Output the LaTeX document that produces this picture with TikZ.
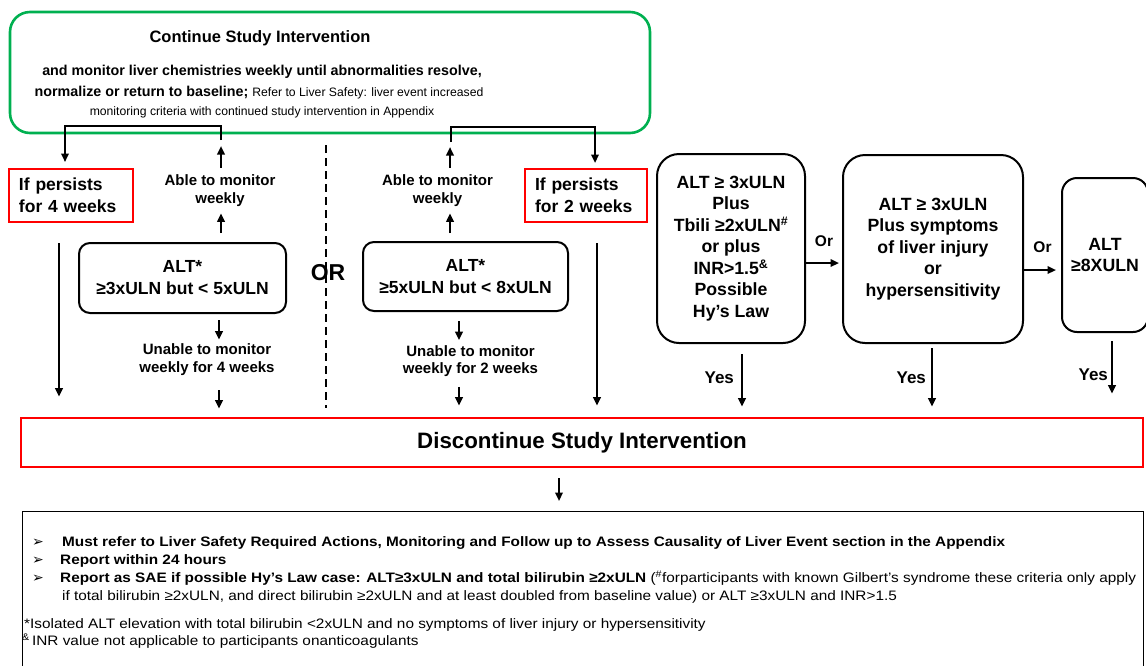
\documentclass[tikz,border=0pt]{standalone}
\usepackage{fontspec}
\setmainfont{Liberation Sans}
\newfontfamily\symfont{DejaVu Sans}
\newfontfamily\notefont[FakeStretch=1.12]{Liberation Sans}
\usetikzlibrary{arrows.meta,positioning}
\definecolor{contgreen}{RGB}{0,176,80}
\definecolor{stopred}{RGB}{255,0,0}
\newcommand{\fs}[2]{\fontsize{#1}{#2}\selectfont}
\tikzset{
  >={Triangle[length=8.5pt,width=7.5pt]},
  greenbox/.style={draw=contgreen, line width=2.6pt, rounded corners=20pt},
  redbox/.style={draw=stopred, line width=2.6pt, align=left, inner xsep=10pt,
                 font=\fs{17.5}{22}\bfseries},
  altbox/.style={draw, line width=2pt, rounded corners=11pt, align=center,
                 font=\fs{17.5}{22}\bfseries},
  critbox/.style={draw, line width=2pt, rounded corners=22pt, align=center,
                  font=\fs{17.7}{21.5}\bfseries},
  lbl/.style={align=center, inner sep=0pt, font=\fs{15}{17.5}\bfseries},
  line/.style={draw, line width=2.2pt, ->},
  bracket/.style={draw, line width=2.2pt},
  note/.style={anchor=base west, inner sep=0pt, font=\notefont\fs{13.7}{16}},
  notebold/.style={note, font=\notefont\fs{13.7}{16}\bfseries},
  bullet/.style={anchor=base west, inner sep=0pt, font=\symfont\fs{14}{16}}
}

\begin{document}
\begin{tikzpicture}[x=1pt,y=-1pt]
    \useasboundingbox (0,0) rectangle (1146,665);
    \clip (0,0) rectangle (1146,665);
    % Continue box
    \node[greenbox, minimum width=640pt, minimum height=121pt] (cont) at (330,72.5) {};
    \node[font=\fs{16.5}{20}\bfseries] (conttitle) at (260,38) {Continue Study Intervention};
    \node[font=\fs{14.3}{18}\bfseries] (monitor) at (262,72)
         {and monitor liver chemistries weekly until abnormalities resolve,};
    \node[font=\fs{14.3}{18}\bfseries] (baseline) at (259,93)
         {normalize or return to baseline; {\mdseries\fs{12.2}{15}Refer to Liver Safety: liver event increased}};
    \node[font=\fs{12.2}{15}] (appendix) at (262,112)
         {monitoring criteria with continued study intervention in Appendix};

    % ALT 3-5xULN branch
    \node[redbox, text width=104pt, minimum height=53pt] (persist4) at (71,195.5) {If persists\\for 4 weeks};
    \node[lbl] (able4) at (220,190.5) {Able to monitor\\weekly};
    \node[altbox, minimum width=207pt, minimum height=70pt] (alt4) at (182.5,278) {ALT*\\≥3xULN but < 5xULN};
    \node[lbl] (unable4) at (207,359.5) {Unable to monitor\\weekly for 4 weeks};
    \coordinate (join4) at (221,140);
    \coordinate (into4) at (65,162);
    \coordinate (able4up) at (221,146);
    \coordinate (col4) at (219,0);
    \coordinate (long4) at (59,0);

    % ALT 5-8xULN branch
    \node[redbox, text width=102pt, minimum height=53pt] (persist2) at (586,195.5) {If persists\\for 2 weeks};
    \node[lbl] (able5) at (437.5,190.5) {Able to monitor\\weekly};
    \node[altbox, minimum width=205pt, minimum height=69pt] (alt5) at (465.5,276.5) {ALT*\\≥5xULN but < 8xULN};
    \node[lbl] (unable2) at (470.5,361) {Unable to monitor\\weekly for 2 weeks};
    \coordinate (join5) at (451,142);
    \coordinate (into2) at (595,163);
    \coordinate (able5up) at (450,147);
    \coordinate (col5) at (459,0);
    \coordinate (long2) at (597,0);

    \draw[line width=1.6pt, dash pattern=on 8pt off 5pt] (326,145) -- (326,408);
    \node[font=\fs{23}{26}\bfseries] (or) at (328,273) {OR};

    % direct stopping criteria
    \node[critbox, minimum width=148pt, minimum height=189pt] (hylaw) at (731,248.5)
         {ALT ≥ 3xULN\\Plus\\Tbili ≥2xULN\textsuperscript{\#}\\or plus\\INR>1.5\textsuperscript{\&}\\Possible\\Hy’s Law};
    \node[critbox, minimum width=180pt, minimum height=188pt] (symptoms) at (933,249)
         {ALT ≥ 3xULN\\Plus symptoms\\of liver injury\\or\\hypersensitivity};
    \node[critbox, rounded corners=15pt, minimum width=86pt, minimum height=154pt] (alt8) at (1105,255)
         {ALT\\≥8XULN};
    \coordinate (colA) at (742,0);
    \coordinate (colB) at (932,0);
    \coordinate (colC) at (1112,0);

    % Discontinue and notes
    \node[draw=stopred, line width=2.6pt, minimum width=1122pt, minimum height=49pt,
          font=\fs{22.3}{26}\bfseries] (stop) at (582,442.5) {Discontinue Study Intervention};
    \node[draw, line width=1pt, minimum width=1121pt, minimum height=200pt, anchor=north west] (notes) at (22,511) {};
    \coordinate (col0) at (559,0);

    % connectors
    \draw[bracket, ->] (join4) -- ++(0,-14) -| (into4);
    \draw[line, shorten <=7pt] (able4.north -| able4up) -- (able4up);
    \draw[line, shorten <=9pt, shorten >=7pt] (alt4.north -| able4up) -- (able4.south -| able4up);
    \draw[line, shorten <=6pt, shorten >=4pt] (alt4.south -| col4) -- (unable4.north -| col4);
    \draw[line, shorten <=15pt, shorten >=8pt] (unable4.south -| col4) -- (stop.north -| col4);
    \draw[line, shorten <=20pt, shorten >=20pt] (persist4.south -| long4) -- (stop.north -| long4);

    \draw[bracket, ->] (join5) -- ++(0,-15) -| (into2);
    \draw[line, shorten <=7pt] (able5.north -| able5up) -- (able5up);
    \draw[line, shorten <=8pt, shorten >=7pt] (alt5.north -| able5up) -- (able5.south -| able5up);
    \draw[line, shorten <=9pt, shorten >=5pt] (alt5.south -| col5) -- (unable2.north -| col5);
    \draw[line, shorten <=10pt, shorten >=11pt] (unable2.south -| col5) -- (stop.north -| col5);
    \draw[line, shorten <=20pt, shorten >=11pt] (persist2.south -| long2) -- (stop.north -| long2);

    \draw[line, shorten >=3pt] ([yshift=-14.5pt]hylaw.east) -- ([yshift=-14.5pt]hylaw.east -| symptoms.west)
         node[midway, above=15pt, inner sep=0pt, font=\fs{15.5}{18}\bfseries] (or1) {Or};
    \draw[line, shorten >=5pt] ([yshift=-21pt]symptoms.east) -- ([yshift=-21pt]symptoms.east -| alt8.west)
         node[midway, above=16pt, inner sep=0pt, font=\fs{15.5}{18}\bfseries] (or2) {Or};
    \draw[line, shorten <=10pt, shorten >=10pt] (hylaw.south -| colA) -- (stop.north -| colA)
         node[pos=0.47, left=7pt, inner sep=0pt, font=\fs{17}{20}\bfseries] (yesA) {Yes};
    \draw[line, shorten <=4pt, shorten >=10pt] (symptoms.south -| colB) -- (stop.north -| colB)
         node[pos=0.47, left=5pt, inner sep=0pt, font=\fs{17}{20}\bfseries] (yesB) {Yes};
    \draw[line, shorten <=8pt, shorten >=23pt] (alt8.south -| colC) -- (stop.north -| colC)
         node[pos=0.5, left=3pt, inner sep=0pt, font=\fs{17}{20}\bfseries] (yesC) {Yes};
    \draw[line, shorten <=10pt, shorten >=10pt] (stop.south -| col0) -- (notes.north -| col0);

    % notes text
    \node[bullet] (b1) at (32,546.5) {➢};
    \node[bullet] (b2) at (32,564.5) {➢};
    \node[bullet] (b3) at (32,582.5) {➢};
    \node[notebold] (n1) at (62,546.5)
         {Must refer to Liver Safety Required Actions, Monitoring and Follow up to Assess Causality of Liver Event section in the Appendix};
    \node[notebold] (n2) at (60,564.5) {Report within 24 hours};
    \node[note] (n3) at (60,582.5)
         {{\bfseries Report as SAE if possible Hy’s Law case: ALT≥3xULN and total bilirubin ≥2xULN} (\textsuperscript{\#}forparticipants with known Gilbert’s syndrome these criteria only apply};
    \node[note] (n4) at (62,600.5)
         {if total bilirubin ≥2xULN, and direct bilirubin ≥2xULN and at least doubled from baseline value) or ALT ≥3xULN and INR>1.5};
    \node[note] (n5) at (24,628.5)
         {*Isolated ALT elevation with total bilirubin <2xULN and no symptoms of liver injury or hypersensitivity};
    \node[note] (n6) at (22,645.5) {\textsuperscript{\&}\,INR value not applicable to participants onanticoagulants};
\end{tikzpicture}
\end{document}
